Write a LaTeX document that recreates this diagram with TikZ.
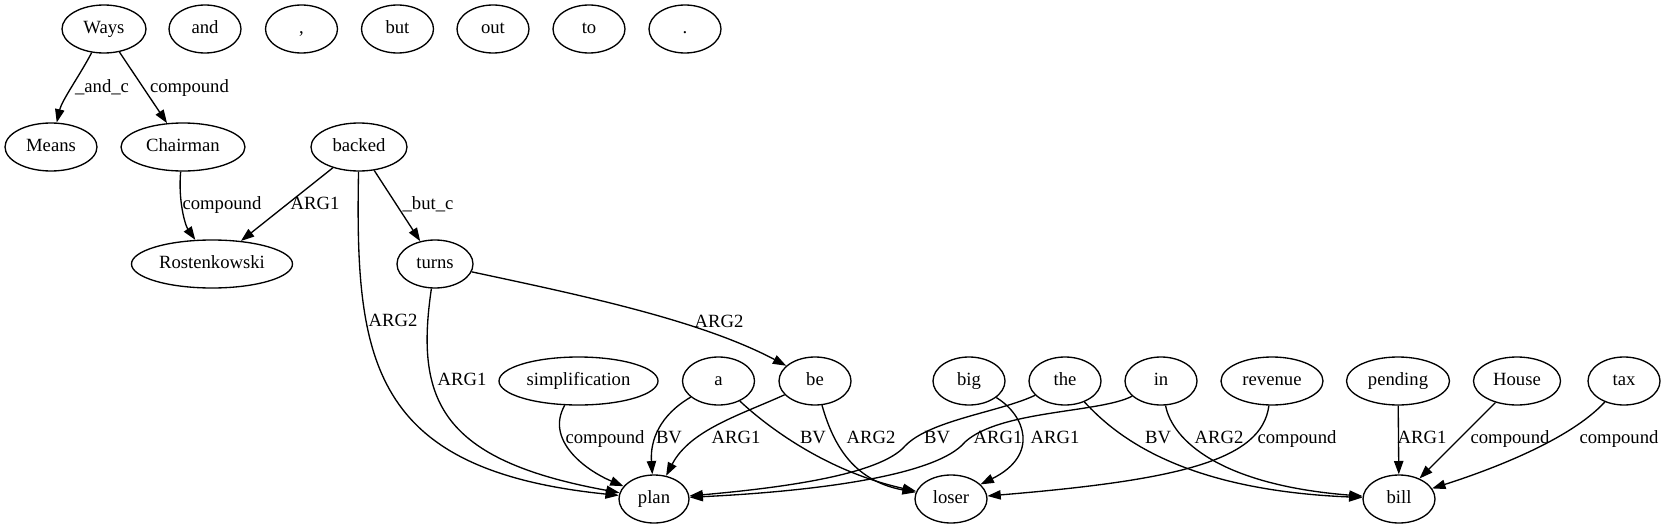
\documentclass[tikz,border=0pt]{standalone}
\usepackage{fontspec}
\setmainfont{Liberation Serif}
\usetikzlibrary{shapes.geometric,arrows.meta}
\tikzset{
  nd/.style={draw, ellipse, line width=1pt, inner sep=0pt, minimum height=36pt, minimum width=#1,
             text height=9.7pt, text depth=3pt},
  nd/.default=54pt,
  lbl/.style={inner sep=0pt, text height=9.7pt, text depth=3pt},
  conn/.style={draw, line width=1pt, -{Triangle[length=10pt,width=7pt]}}
}
\begin{document}
\begin{tikzpicture}[x=0.75pt, y=-0.75pt, font=\fontsize{14pt}{16pt}\selectfont]
\fill[white] (0,0) rectangle (1665,528);
\useasboundingbox (0,0) rectangle (1665,528);
% row 1
\node[nd=63pt] (Ways) at (104,29) {Ways};
\node[nd] (and) at (205,29) {and};
\node[nd] (comma) at (301.5,29) {,};
\node[nd] (but) at (397.5,29) {but};
\node[nd] (out) at (493,29) {out};
\node[nd] (to) at (589,29) {to};
\node[nd] (dot) at (685,29) {.};
% row 2
\node[nd=69pt] (Means) at (51,147) {Means};
\node[nd=93pt] (Chairman) at (183,147) {Chairman};
\node[nd=72pt] (backed) at (359,147) {backed};
% row 3
\node[nd=120.75pt] (Rosten) at (212,264) {Rostenkowski};
\node[nd=57pt] (turns) at (435,264) {turns};
% row 4
\node[nd=119.25pt] (simpl) at (578.5,381) {simplification};
\node[nd] (a) at (718.5,381) {a};
\node[nd] (be) at (815,381) {be};
\node[nd] (big) at (969,381) {big};
\node[nd] (the) at (1065,381) {the};
\node[nd] (in) at (1161,381) {in};
\node[nd=76.5pt] (revenue) at (1272,381) {revenue};
\node[nd=77.25pt] (pending) at (1398,381) {pending};
\node[nd=65.25pt] (House) at (1517,381) {House};
\node[nd] (tax) at (1624,381) {tax};
% row 5
\node[nd=52.5pt] (plan) at (654,499) {plan};
\node[nd] (loser) at (951,499) {loser};
\node[nd] (bill) at (1399,499) {bill};

% edges
\draw[conn] (Ways) .. controls (80,75) and (62,100) .. (Means);
\draw[conn] (Ways) -- (Chairman);
\draw[conn] (Chairman) .. controls (178,200) and (185,225) .. (Rosten);
\draw[conn] (backed) -- (Rosten);
\draw[conn] (backed) -- (turns);
\draw[conn] (backed) .. controls (355,360) and (370,470) .. (plan);
\draw[conn] (turns) .. controls (415,400) and (440,460) .. (plan);
\draw[conn] (turns) .. controls (580,295) and (700,320) .. (be);
\draw[conn] (simpl) .. controls (545,440) and (585,470) .. (plan);
\draw[conn] (a) .. controls (660,415) and (650,440) .. (plan);
\draw[conn] (be) .. controls (740,415) and (690,430) .. (plan);
\draw[conn] (a) .. controls (760,420) and (820,470) .. (loser);
\draw[conn] (be) .. controls (832,440) and (850,480) .. (loser);
\draw[conn] (the) .. controls (1000,412) and (930,420) .. (905,446) .. controls (880,475) and (780,488) .. (plan);
\draw[conn] (in) .. controls (1100,413) and (1000,410) .. (965,442) .. controls (935,478) and (800,492) .. (plan);
\draw[conn] (big) .. controls (1025,415) and (1040,455) .. (loser);
\draw[conn] (the) .. controls (1115,435) and (1180,490) .. (bill);
\draw[conn] (in) .. controls (1172,440) and (1220,485) .. (bill);
\draw[conn] (revenue) .. controls (1262,460) and (1180,480) .. (loser);
\draw[conn] (pending) -- (bill);
\draw[conn] (House) -- (bill);
\draw[conn] (tax) .. controls (1570,440) and (1490,470) .. (bill);

% labels
\node[lbl] (l1) at (102,88) {\_and\_c};
\node[lbl] (l2) at (189.5,88) {compound};
\node[lbl] (l3) at (222,205) {compound};
\node[lbl] (l4) at (315,205) {ARG1};
\node[lbl] (l5) at (428,205) {\_but\_c};
\node[lbl] (l6) at (393,322) {ARG2};
\node[lbl] (l7) at (719,323) {ARG2};
\node[lbl] (l8) at (462,381) {ARG1};
\node[lbl] (l9) at (605,439) {compound};
\node[lbl] (l10) at (669,439) {BV};
\node[lbl] (l11) at (736,439) {ARG1};
\node[lbl] (l12) at (813,439) {BV};
\node[lbl] (l13) at (871,439) {ARG2};
\node[lbl] (l14) at (937,439) {BV};
\node[lbl] (l15) at (998,439) {ARG1};
\node[lbl] (l16) at (1055,439) {ARG1};
\node[lbl] (l17) at (1158,439) {BV};
\node[lbl] (l18) at (1219,439) {ARG2};
\node[lbl] (l19) at (1297,439) {compound};
\node[lbl] (l20) at (1422,439) {ARG1};
\node[lbl] (l21) at (1510,439) {compound};
\node[lbl] (l22) at (1619,439) {compound};
\end{tikzpicture}
\end{document}
